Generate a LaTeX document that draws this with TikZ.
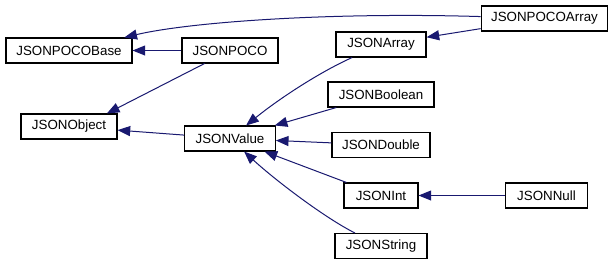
\documentclass[tikz,border=0pt]{standalone}
\usepackage{fontspec}
\setmainfont{Liberation Sans}
\usepackage{xcolor}
\usepackage{tikz}
\usetikzlibrary{arrows.meta}
\definecolor{EdgeBlue}{RGB}{25,25,112}

\begin{document}
\begin{tikzpicture}[x=0.75pt, y=-0.75pt,
          cls/.style={rectangle, draw=black, line width=0.8pt, fill=white,
                      minimum height=18.75pt, inner xsep=7.5pt,
                      font=\fontsize{10}{12}\selectfont},
          inh/.style={{Triangle[length=9.5pt, width=7.5pt]}-, draw=EdgeBlue,
                      fill=none, line width=0.75pt}
        ]
        \useasboundingbox[fill=white] (0,0) rectangle (616,265);

        % left column
        \node[cls, minimum width=94.5pt] (pocobase) at (69, 50.5)  {JSONPOCOBase};
        \node[cls, minimum width=72pt]   (jobject)  at (69, 126.5) {JSONObject};

        % middle column
        \node[cls, minimum width=72pt]   (poco)     at (230, 50.5)  {JSONPOCO};
        \node[cls, minimum width=68pt]   (jvalue)   at (230, 138.5) {JSONValue};

        % value types
        \node[cls, minimum width=67.5pt] (jarray)   at (381, 44.5)  {JSONArray};
        \node[cls, minimum width=79.5pt] (jbool)    at (381, 94.5)  {JSONBoolean};
        \node[cls, minimum width=73.5pt] (jdouble)  at (381, 145)   {JSONDouble};
        \node[cls, minimum width=55.5pt] (jint)     at (381, 195.5) {JSONInt};
        \node[cls, minimum width=69pt]   (jstring)  at (381, 246)   {JSONString};

        % right column
        \node[cls, minimum width=92pt]   (pocoarray) at (544.5, 18.5)  {JSONPOCOArray};
        \node[cls, minimum width=61pt]   (jnull)     at (546.5, 195.5) {JSONNull};

        \draw[inh] (pocobase) .. controls (190,22) and (330,12) .. (pocoarray);
        \draw[inh] (jarray)   -- (pocoarray);
        \draw[inh] (pocobase) -- (poco);
        \draw[inh] (jobject.19) -- (poco);
        \draw[inh] (jobject)  -- (jvalue);
        \draw[inh] (jvalue) .. controls (280,98) and (320,72) .. (jarray);
        \draw[inh] (jvalue)   -- (jbool);
        \draw[inh] (jvalue)   -- (jdouble);
        \draw[inh] (jvalue)   -- (jint);
        \draw[inh] (jvalue) .. controls (275,180) and (325,218) .. (jstring);
        \draw[inh] (jint)     -- (jnull);
      \end{tikzpicture}
\end{document}
